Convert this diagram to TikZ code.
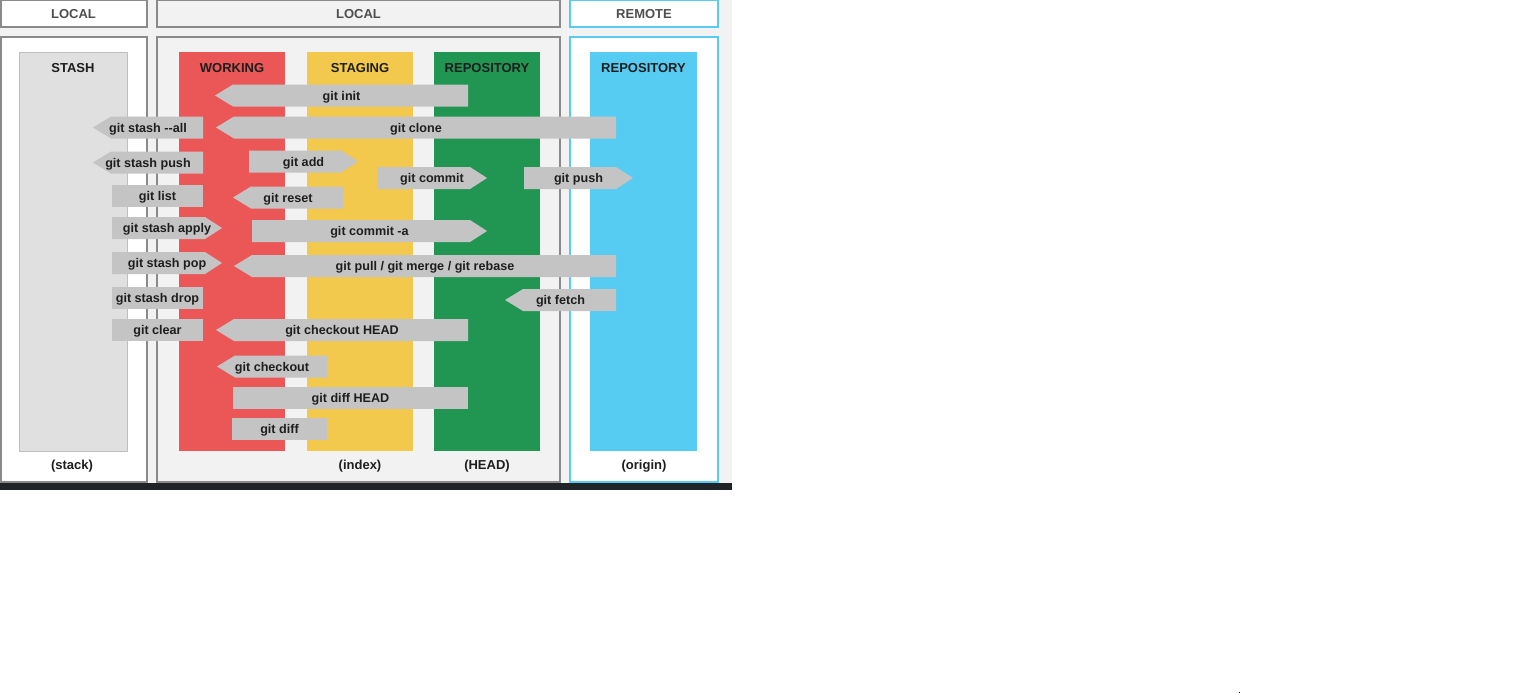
\documentclass[tikz,border=0pt]{standalone}
\usepackage{fontspec}
\setmainfont{Liberation Sans}
\definecolor{bggray}{HTML}{F2F2F2}
\definecolor{boxborder}{HTML}{8A8A8A}
\definecolor{stashcol}{HTML}{E0E0E0}
\definecolor{workcol}{HTML}{EB5757}
\definecolor{stagecol}{HTML}{F2C94C}
\definecolor{repocol}{HTML}{219653}
\definecolor{remotecol}{HTML}{56CCF2}
\definecolor{cmdgray}{HTML}{C4C4C4}
\definecolor{headtext}{HTML}{4F4F4F}
\definecolor{darktext}{HTML}{1E1E1E}
\definecolor{darkband}{HTML}{202428}
\tikzset{
  cmd/.style={font=\fontsize{12.6}{14}\selectfont\bfseries, text=darktext, inner sep=0pt, text height=9pt, text depth=0pt},
  coltitle/.style={font=\fontsize{13}{15}\selectfont\bfseries, text=darktext, inner sep=0pt, text height=9.3pt, text depth=0pt},
  headtitle/.style={font=\fontsize{13}{15}\selectfont\bfseries, text=headtext, inner sep=0pt, text height=9.3pt, text depth=0pt},
  cmdfill/.style={fill=cmdgray},
  frame/.style={draw=boxborder, line width=1.5pt},
}
% left-pointing: name, x tip, x right, y center, text
\newcommand\gL[5]{%
  \fill[cmdfill] (#2,#4) -- ({#2+18},{#4-11}) -- (#3,{#4-11}) -- (#3,{#4+11}) -- ({#2+18},{#4+11}) -- cycle;
  \node[cmd] (#1) at ({(#2+#3)/2},#4) {#5};}
% right-pointing: name, x left, x tip, y center, text
\newcommand\gR[5]{%
  \fill[cmdfill] (#2,{#4-11}) -- ({#3-17},{#4-11}) -- (#3,#4) -- ({#3-17},{#4+11}) -- (#2,{#4+11}) -- cycle;
  \node[cmd] (#1) at ({(#2+#3)/2},#4) {#5};}
% plain box: name, x left, x right, y center, text
\newcommand\gB[5]{%
  \fill[cmdfill] (#2,{#4-11}) rectangle (#3,{#4+11});
  \node[cmd] (#1) at ({(#2+#3)/2},#4) {#5};}
\begin{document}
\begin{tikzpicture}[x=1pt,y=-1pt]
\useasboundingbox (0,0) rectangle (1536,693);
\fill[white] (0,0) rectangle (1536,693);
% background of the diagram
\fill[bggray] (0,0) rectangle (732,483);
\fill[darkband] (0,483) rectangle (732,490);
\fill[black] (1238.5,691.5) rectangle (1240,693);
% header boxes
\draw[frame, fill=white] (0.75,0.75) rectangle (147,27);
\draw[frame, fill=bggray] (157,0.75) rectangle (560,27);
\draw[line width=1.5pt, draw=remotecol, fill=white] (570,0.75) rectangle (718,27);
\node[headtitle] (h1) at (73.5,14) {LOCAL};
\node[headtitle] (h2) at (358.5,14) {LOCAL};
\node[headtitle] (h3) at (644,14) {REMOTE};
% main boxes
\draw[frame, fill=white] (0.75,37) rectangle (147,482);
\draw[frame, fill=bggray] (157,37) rectangle (560,482);
\draw[line width=1.5pt, draw=remotecol, fill=white] (570,37) rectangle (718,482);
% columns
\fill[stashcol] (19,52) rectangle (127,451);
\draw[draw=stashcol!85!black, line width=0.5pt] (19,52) rectangle (127,451);
\fill[workcol] (179,52) rectangle (285,451);
\fill[stagecol] (307,52) rectangle (413,451);
\fill[repocol] (434,52) rectangle (540,451);
\fill[remotecol] (590,52) rectangle (697,451);
\node[coltitle] (t1) at (73,68) {STASH};
\node[coltitle] (t2) at (232,68) {WORKING};
\node[coltitle] (t3) at (360,68) {STAGING};
\node[coltitle] (t4) at (487,68) {REPOSITORY};
\node[coltitle] (t5) at (643.5,68) {REPOSITORY};
\node[coltitle] (b1) at (72,465) {(stack)};
\node[coltitle] (b3) at (360,465) {(index)};
\node[coltitle] (b4) at (487,465) {(HEAD)};
\node[coltitle] (b5) at (644,465) {(origin)};
% commands
\gL{init}{215}{468}{95.5}{git init}
\gL{clone}{216}{616}{127.5}{git clone}
\gL{stashall}{93}{203}{127.5}{git stash {-}{-}all}
\gL{stashpush}{93}{203}{162.5}{git stash push}
\gR{add}{249}{358}{161.5}{git add}
\gB{list}{112}{203}{196}{git list}
\gL{reset}{233}{343}{197.5}{git reset}
\gR{commit}{377}{487}{178}{git commit}
\gR{push}{524}{633}{178}{git push}
\gR{apply}{112}{222}{228}{git stash apply}
\gR{commita}{252}{487}{231}{git commit -a}
\gR{pop}{112}{222}{263}{git stash pop}
\gL{pull}{234}{616}{266}{git pull / git merge / git rebase}
\gB{drop}{112}{203}{297.5}{git stash drop}
\gL{fetch}{505}{616}{300}{git fetch}
\gB{clear}{112}{203}{330}{git clear}
\gL{checkouthead}{216}{468}{330}{git checkout HEAD}
\gL{checkout}{217}{327}{366.5}{git checkout}
\gB{diffhead}{233}{468}{398}{git diff HEAD}
\gB{diff}{232}{327}{428.5}{git diff}
\end{tikzpicture}
\end{document}
